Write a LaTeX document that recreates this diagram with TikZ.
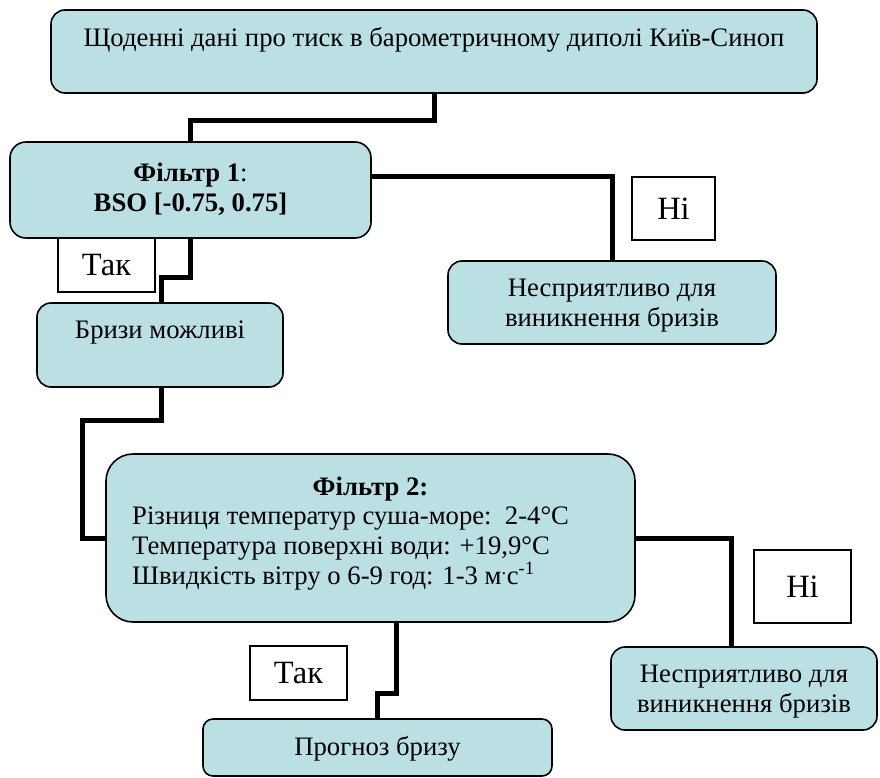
\documentclass[tikz,border=0pt]{standalone}
\usepackage{fontspec}
\setmainfont{Liberation Serif}
\definecolor{boxfill}{RGB}{187,224,227}

\begin{document}
\begin{tikzpicture}[x=1pt, y=-1pt,
    box/.style={draw=black, line width=1.6pt, fill=boxfill, rounded corners=#1, inner sep=0pt},
    box/.default=14pt,
    tag/.style={draw=black, line width=1.3pt, fill=white, inner sep=0pt},
    txt/.style={font=\fontsize{26.7}{30}\selectfont, align=center, inner sep=0pt},
    tagtxt/.style={font=\fontsize{32.5}{36}\selectfont, inner sep=0pt},
    link/.style={line width=5pt}]
  \useasboundingbox (0,0) rectangle (880,778);

  % boxes
  \node[box, minimum width=766pt, minimum height=83pt] (top) at (434,51.5) {};
  \node[box=16pt, minimum width=361pt, minimum height=96pt] (filt1) at (190.5,190) {};
  \node[box, minimum width=328pt, minimum height=83pt] (bad1) at (612,302.5) {};
  \node[box, minimum width=246pt, minimum height=84pt] (briz) at (160,345) {};
  \node[box=27pt, minimum width=529pt, minimum height=168pt] (filt2) at (370.5,538) {};
  \node[box, minimum width=266pt, minimum height=83pt] (bad2) at (744,688.5) {};
  \node[box=10pt, minimum width=349pt, minimum height=57pt] (prog) at (377.5,747.5) {};

  % connectors
  \draw[link] (top.south) -- ++(0,27) -| (filt1.north);
  \draw[link] ([yshift=13pt]filt1.east) -| (bad1.north);
  \draw[link] (filt1.south) -- ++(0,39) -| ([xshift=1pt]briz.north);
  \draw[link] ([xshift=1pt]briz.south) -- ++(0,33) -| ([xshift=-23pt]filt2.west) -- (filt2.west);
  \draw[link] (filt2.east) -| ([xshift=-13pt]bad2.north);
  \draw[link] ([xshift=26pt]filt2.south) -- ++(0,71) -| (prog.north);

  % yes / no tags
  \node[tag, minimum width=97pt, minimum height=54pt] (tak1) at (106.5,265) {};
  \node[tag, minimum width=83pt, minimum height=63pt] (ni1) at (673.5,208.5) {};
  \node[tag, minimum width=97pt, minimum height=54pt] (tak2) at (298.5,673) {};
  \node[tag, minimum width=97pt, minimum height=73pt] (ni2) at (802.5,586.5) {};
  \node[tagtxt] at (tak1) {Так};
  \node[tagtxt] at (ni1) {Ні};
  \node[tagtxt] at (tak2) {Так};
  \node[tagtxt] at (ni2) {Ні};

  % texts
  \node[txt] (toptxt) at (434,40) {Щоденні дані про тиск в барометричному диполі Київ-Синоп};
  \node[txt] (filt1txt) at (190.5,189) {\textbf{Фільтр 1}:\\ \textbf{BSO [-0.75, 0.75]}};
  \node[txt] (bad1txt) at (612,306) {Несприятливо для\\ виникнення бризів};
  \node[txt] (briztxt) at (160,333) {Бризи можливі};
  \node[txt] (filt2head) at (370.5,489) {\textbf{Фільтр 2:}};
  \node[txt, align=left, anchor=west] (filt2txt) at (132,548)
    {Різниця температур суша-море:\ \ 2-4°C\\
     Температура поверхні води: +19,9°C\\
     Швидкість вітру о 6-9 год: 1-3 м\textsuperscript{.}с\textsuperscript{-1}};
  \node[txt] (bad2txt) at (744,692) {Несприятливо для\\ виникнення бризів};
  \node[txt] (progtxt) at (377.5,749) {Прогноз бризу};
\end{tikzpicture}
\end{document}
